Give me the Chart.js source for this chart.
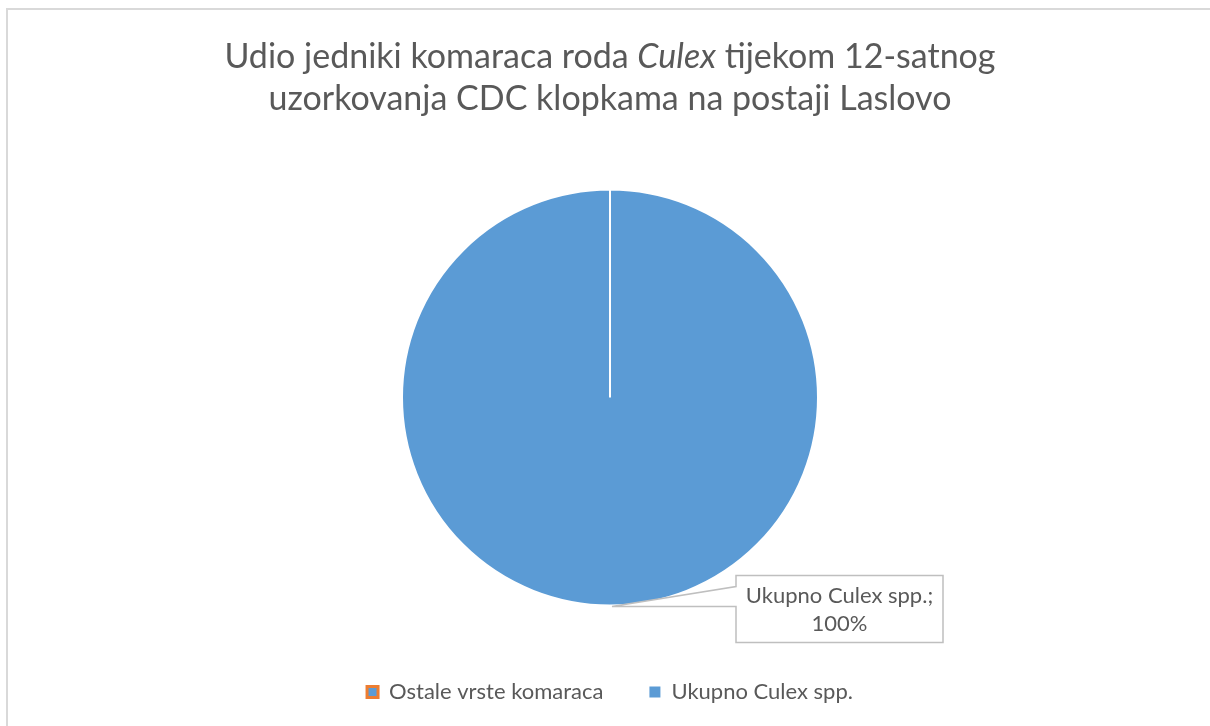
<!DOCTYPE html>
<html>
<head>
<meta charset="utf-8">
<script src="https://cdn.jsdelivr.net/npm/chart.js@4"></script>
<style>
  html, body { margin: 0; padding: 0; background: #fff; overflow: hidden; }
  #wrap { position: relative; width: 1210px; height: 726px; }
  #frame { position: absolute; left: 6px; top: 8px; width: 1300px; height: 800px;
           border-left: 2px solid #D9D9D9; border-top: 2px solid #D9D9D9; box-sizing: border-box; }
  #title { position: absolute; left: 10px; width: 1200px; top: 34px; text-align: center;
           font-family: Lato, sans-serif; font-size: 34px; line-height: 42px; color: #595959; }
  canvas { position: absolute; left: 0; top: 0; }
</style>
</head>
<body>
<div id="wrap">
  <div id="frame"></div>
  <canvas id="c" width="1210" height="726"></canvas>
  <div id="title">Udio jedniki komaraca roda <i>Culex</i> tijekom 12-satnog<br>uzorkovanja CDC klopkama na postaji Laslovo</div>
</div>
<script>
const categories = ["Ostale vrste komaraca", "Ukupno Culex spp."];
const values = [0, 100];
const colors = ["#ED7D31", "#5B9BD5"];

const calloutPlugin = {
  id: 'callout',
  afterDatasetsDraw(chart) {
    const ctx = chart.ctx;
    const meta = chart.getDatasetMeta(0);
    const total = values.reduce((a, b) => a + b, 0);
    const i = 1;
    const arc = meta.data[i];
    const mid = (arc.startAngle + arc.endAngle) / 2;
    const ax = arc.x + Math.cos(mid) * arc.outerRadius;
    const ay = arc.y + Math.sin(mid) * arc.outerRadius;
    const bx = ax + 126, by = ay - 30, bw = 207, bh = 67;
    ctx.save();
    ctx.fillStyle = '#fff';
    ctx.strokeStyle = '#BFBFBF';
    ctx.lineWidth = 1.5;
    ctx.beginPath();
    ctx.moveTo(bx, by);
    ctx.lineTo(bx + bw, by);
    ctx.lineTo(bx + bw, by + bh);
    ctx.lineTo(bx, by + bh);
    ctx.lineTo(bx, ay + 1);
    ctx.lineTo(ax + 2, ay + 1);
    ctx.lineTo(bx, by + 11);
    ctx.closePath();
    ctx.fill();
    ctx.stroke();
    ctx.fillStyle = '#595959';
    ctx.font = '22px Lato, sans-serif';
    ctx.textAlign = 'center';
    ctx.textBaseline = 'middle';
    const pct = Math.round(values[i] / total * 100) + '%';
    ctx.fillText(categories[i] + ';', bx + bw / 2, by + 20);
    ctx.fillText(pct, bx + bw / 2, by + 48);
    ctx.restore();
  }
};

new Chart(document.getElementById('c'), {
  type: 'pie',
  data: {
    labels: categories,
    datasets: [{
      data: values,
      backgroundColor: colors,
      borderColor: '#FFFFFF',
      borderWidth: 2
    }]
  },
  options: {
    responsive: false,
    animation: false,
    radius: 208,
    layout: { padding: { top: 160, bottom: 13, left: 10, right: 0 } },
    plugins: {
      title: { display: false },
      tooltip: { enabled: false },
      legend: {
        position: 'bottom',
        labels: {
          font: { family: 'Lato, sans-serif', size: 22 },
          color: '#595959',
          boxWidth: 11,
          boxHeight: 11,
          padding: 46,
          generateLabels(chart) {
            return categories.map((c, k) => ({
              text: c,
              fillStyle: colors[1],
              strokeStyle: k === 0 ? colors[0] : colors[1],
              lineWidth: k === 0 ? 3 : 0,
              fontColor: '#595959',
              hidden: false,
              index: k
            }));
          }
        }
      }
    }
  },
  plugins: [calloutPlugin]
});
</script>
</body>
</html>
